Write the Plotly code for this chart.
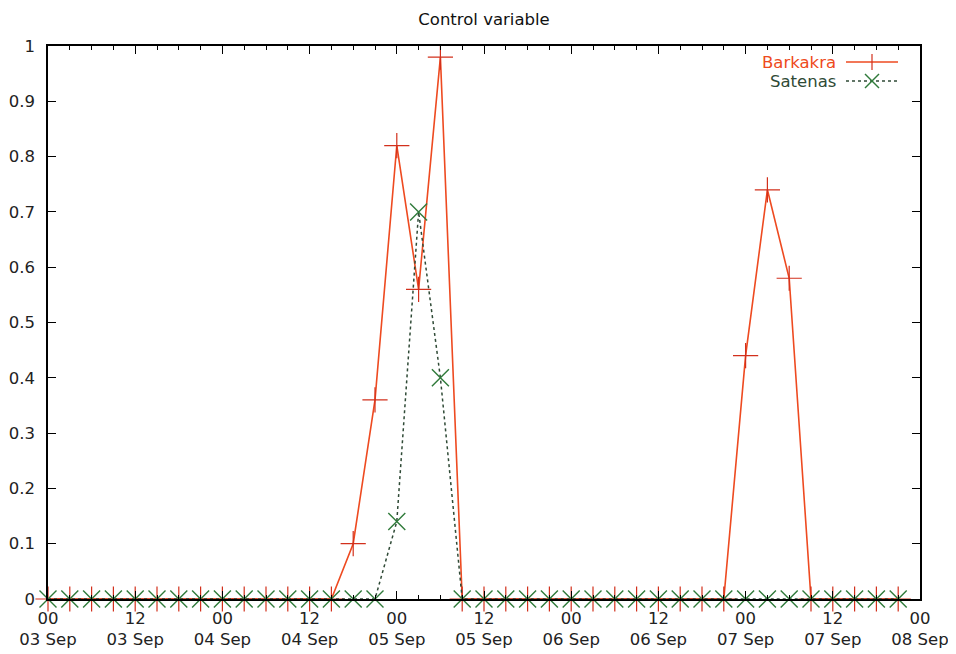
import pandas as pd
import plotly.graph_objects as go

# ---- data (3-hourly samples, 03 Sep 00h .. 07 Sep 21h) ----
times = pd.date_range("2009-09-03 00:00", periods=40, freq="3h")
barkakra = [0, 0, 0, 0, 0, 0, 0, 0, 0, 0, 0, 0, 0, 0, 0.10, 0.36, 0.82, 0.56, 0.98, 0,
            0, 0, 0, 0, 0, 0, 0, 0, 0, 0, 0, 0, 0.44, 0.74, 0.58, 0, 0, 0, 0, 0]
satenas = [0, 0, 0, 0, 0, 0, 0, 0, 0, 0, 0, 0, 0, 0, 0, 0, 0.14, 0.70, 0.40, 0,
           0, 0, 0, 0, 0, 0, 0, 0, 0, 0, 0, 0, 0, 0, 0, 0, 0, 0, 0, 0]
series_names = ["Barkakra", "Satenas"]
title_text = "Control variable"

RED = "#ee4a20"
RED_MK = "#d2301c"
GREEN_MK = "#2f7a3a"
GREEN_LN = "#2f4a36"
FONT = "DejaVu Sans, Arial"
FS = 16.5

# page body adds an 8px offset; compensate so the plot area sits at 48..920 x 46..599
OFF = 8
W, H = 956 - OFF, 654 - OFF
L, R, T, B = 48 - OFF, 36, 46 - OFF, 55
PW, PH = W - L - R, H - T - B

fig = go.Figure()
fig.add_trace(go.Scatter(
    x=times, y=barkakra, name=series_names[0], mode="lines+markers",
    line=dict(color=RED, width=1.6),
    marker=dict(symbol="cross-thin", size=18, line=dict(color=RED_MK, width=1.2)),
    cliponaxis=False, showlegend=False))
fig.add_trace(go.Scatter(
    x=times, y=satenas, name=series_names[1], mode="lines+markers",
    line=dict(color=GREEN_LN, width=1.5, dash="3px,3px"),
    marker=dict(symbol="x-thin", size=17, line=dict(color=GREEN_MK, width=1.4)),
    cliponaxis=False, showlegend=False))

# ---- gnuplot-style legend (text then sample); positions in page pixels ----
def px(xp):
    return (xp - OFF - L) / PW

def py(yp):
    return (H - B - (yp - OFF)) / PH

legend_rows = [(series_names[0], RED, 62), (series_names[1], GREEN_LN, 81)]
annotations = []
shapes = []
for i, (name, col, yrow) in enumerate(legend_rows):
    annotations.append(dict(xref="paper", yref="paper", x=px(838), y=py(yrow),
                            xanchor="right", yanchor="middle", showarrow=False,
                            text=name, font=dict(size=FS, color=col, family=FONT)))
    if i == 0:
        shapes.append(dict(type="line", xref="paper", yref="paper",
                           x0=px(846), x1=px(898), y0=py(yrow), y1=py(yrow),
                           line=dict(color=RED, width=1.6)))
        shapes.append(dict(type="line", xref="paper", yref="paper",
                           x0=px(872), x1=px(872), y0=py(yrow - 8), y1=py(yrow + 8),
                           line=dict(color=RED_MK, width=1.2)))
    else:
        shapes.append(dict(type="line", xref="paper", yref="paper",
                           x0=px(846), x1=px(898), y0=py(yrow), y1=py(yrow),
                           line=dict(color=GREEN_LN, width=1.5, dash="3px,3px")))
        for s in (-1, 1):
            shapes.append(dict(type="line", xref="paper", yref="paper",
                               x0=px(872 - 7), x1=px(872 + 7),
                               y0=py(yrow - 7 * s), y1=py(yrow + 7 * s),
                               line=dict(color=GREEN_MK, width=1.4)))

fig.update_layout(
    width=W, height=H,
    margin=dict(l=L, r=R, t=T, b=B),
    paper_bgcolor="white", plot_bgcolor="white",
    font=dict(family=FONT, size=FS, color="#222222"),
    title=dict(text=title_text, x=(L + PW / 2) / W, xanchor="center",
               y=1 - (19 - OFF) / H, yanchor="middle",
               font=dict(size=16.5, color="#111111")),
    annotations=annotations, shapes=shapes,
    showlegend=False,
)
fig.update_xaxes(
    type="date", range=["2009-09-03 00:00", "2009-09-08 00:00"],
    tick0="2009-09-03 00:00", dtick=12 * 3600 * 1000, tickformat="%H<br>%d %b",
    ticks="inside", ticklen=8, tickwidth=1.3, tickcolor="black",
    minor=dict(dtick=3 * 3600 * 1000, ticks="inside", ticklen=4, tickcolor="black",
               showgrid=False),
    showline=True, linecolor="black", linewidth=1.5, mirror="ticks",
    showgrid=False, zeroline=False, ticklabelstandoff=3, automargin=False,
    tickfont=dict(size=FS, color="#222222"),
)
fig.update_yaxes(
    range=[0, 1], dtick=0.1, tick0=0,
    ticks="inside", ticklen=8, tickwidth=1.3, tickcolor="black",
    showline=True, linecolor="black", linewidth=1.5, mirror="ticks",
    showgrid=False, zeroline=False, ticklabelstandoff=8, automargin=False,
    tickfont=dict(size=FS, color="#222222"),
)

fig.write_html("out.html")
